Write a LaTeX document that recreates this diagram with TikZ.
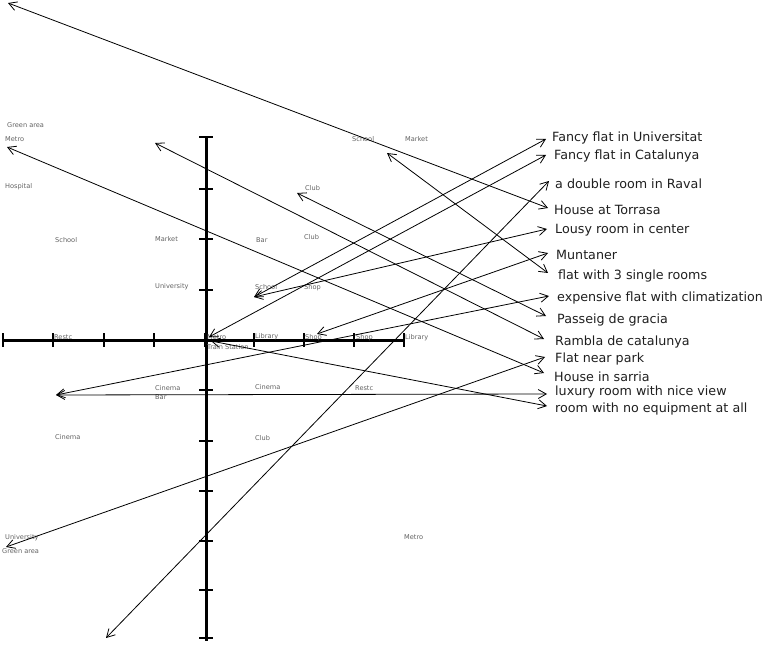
\documentclass[tikz,border=0pt]{standalone}
\usepackage{fontspec}
\setmainfont{DejaVu Sans}
\usetikzlibrary{arrows.meta}
\begin{document}
\begin{tikzpicture}[x=1pt,y=-1pt,
  axis/.style={line width=3pt},
  tickmark/.style={line width=2.6pt},
  place/.style={font=\fontsize{6.6}{7}\selectfont, text=black!62, anchor=west, inner sep=0pt},
  flat/.style={font=\fontsize{12.7}{14}\selectfont, text=black!88, anchor=west, inner sep=0pt},
  conn/.style={line width=0.8pt, {Straight Barb[length=8pt,width=9pt]}-{Straight Barb[length=8pt,width=9pt]}}]
\useasboundingbox (0,0) rectangle (766,647);

% axes
\coordinate (vtop) at (206,137);
\coordinate (vbot) at (206,641);
\coordinate (hl) at (3,340);
\coordinate (hr) at (405,340);
\draw[axis] (vtop) -- (vbot);
\draw[axis] (hl) -- (hr);
\foreach \y in {137,189,239,290,340,390,441,491,541,590,638} \draw[tickmark] (199,\y) -- (213,\y);
\foreach \x in {3,53,104,154,205,254,304,354,404} \draw[tickmark] (\x,333) -- (\x,347);

% place labels
\node[place] (p1) at (7,125) {Green area};
\node[place] (p2) at (5,139) {Metro};
\node[place] (p3) at (5,187) {Hospital};
\node[place] (p4) at (55,240) {School};
\node[place] (p5) at (155,239) {Market};
\node[place] (p6) at (155,287) {University};
\node[place] (p7) at (352,139) {School};
\node[place] (p8) at (405,139) {Market};
\node[place] (p9) at (305,188) {Club};
\node[place] (p10) at (256,240) {Bar};
\node[place] (p11) at (304,237) {Club};
\node[place] (p12) at (255,287) {School};
\node[place] (p13) at (304,288) {Shop};
\node[place] (p14) at (54,337) {Restc};
\node[place] (p15) at (207,337) {Metro};
\node[place] (p16) at (207,347) {Train Station};
\node[place] (p17) at (255,337) {Library};
\node[place] (p18) at (305,338) {Shop};
\node[place] (p19) at (356,338) {Shop};
\node[place] (p20) at (405,338) {Library};
\node[place] (p21) at (155,388) {Cinema};
\node[place] (p22) at (155,397) {Bar};
\node[place] (p23) at (255,387) {Cinema};
\node[place] (p24) at (355,388) {Restc};
\node[place] (p25) at (55,437) {Cinema};
\node[place] (p26) at (255,438) {Club};
\node[place] (p27) at (5,538) {University};
\node[place] (p28) at (2,551) {Green area};
\node[place] (p29) at (404,537) {Metro};

% flat labels
\node[flat] (f1) at (552,137.5) {Fancy flat in Universitat};
\node[flat] (f2) at (554,155.5) {Fancy flat in Catalunya};
\node[flat] (f3) at (555,183.5) {a double room in Raval};
\node[flat] (f4) at (554,209.5) {House at Torrasa};
\node[flat] (f5) at (555,229.5) {Lousy room in center};
\node[flat] (f6) at (556,254.5) {Muntaner};
\node[flat] (f7) at (558,275.5) {flat with 3 single rooms};
\node[flat] (f8) at (557,297.5) {expensive flat with climatization};
\node[flat] (f9) at (557,319.5) {Passeig de gracia};
\node[flat] (f10) at (555,341.5) {Rambla de catalunya};
\node[flat] (f11) at (555,358.5) {Flat near park};
\node[flat] (f12) at (554,376.5) {House in sarria};
\node[flat] (f13) at (555,391.5) {luxury room with nice view};
\node[flat] (f14) at (555,408.5) {room with no equipment at all};

% connector ends
\coordinate (pA) at (8,3);
\coordinate (pB) at (7,147);
\coordinate (pC) at (155,143);
\coordinate (pD) at (387,153);
\coordinate (pE) at (297,193);
\coordinate (pF) at (254,297);
\coordinate (pG1) at (209,337);
\coordinate (pG2) at (211,341);
\coordinate (pH) at (317,334);
\coordinate (pI) at (56,395);
\coordinate (pJ) at (6,547);
\coordinate (pK) at (106,638);

\coordinate (tUniv) at (546,139);
\coordinate (tCatal) at (546,155);
\coordinate (tRaval) at (549,181);
\coordinate (tTorrasa) at (548,208);
\coordinate (tLousy) at (547,229);
\coordinate (tMunt) at (548,253);
\coordinate (tThree) at (548,273);
\coordinate (tExp) at (549,296);
\coordinate (tPasseig) at (546,316);
\coordinate (tRambla) at (544,339);
\coordinate (tPark) at (545,357);
\coordinate (tSarria) at (544,373);
\coordinate (tLux) at (547,394);
\coordinate (tEquip) at (547,406);

\draw[conn] (pA) -- (tTorrasa);
\draw[conn] (pB) -- (tSarria);
\draw[conn] (pC) -- (tRambla);
\draw[conn] (pD) -- (tThree);
\draw[conn] (pE) -- (tPasseig);
\draw[conn] (pF) -- (tUniv);
\draw[conn] (pF) -- (tLousy);
\draw[conn] (pG1) -- (tCatal);
\draw[conn] (pG2) -- (tEquip);
\draw[conn] (pH) -- (tMunt);
\draw[conn] (pI) -- (tLux);
\draw[conn] (pI) -- (tExp);
\draw[conn] (pJ) -- (tPark);
\draw[conn] (pK) -- (tRaval);
\end{tikzpicture}
\end{document}
